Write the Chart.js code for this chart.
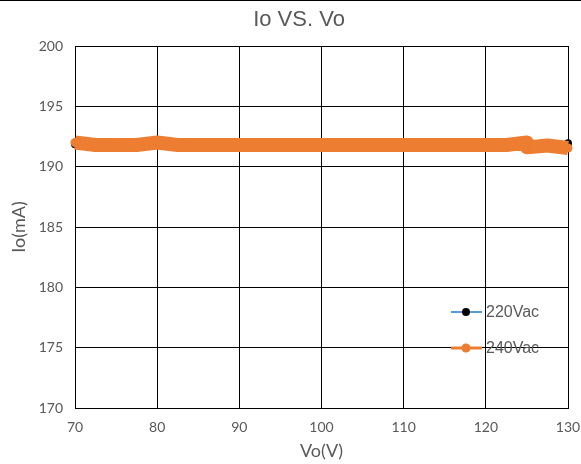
<!DOCTYPE html>
<html>
<head>
<meta charset="utf-8">
<title>Io VS. Vo</title>
<script src="https://cdn.jsdelivr.net/npm/chart.js@4.4.1/dist/chart.umd.min.js"></script>
<style>
  html, body { margin: 0; padding: 0; background: #fff; }
  #wrap { position: relative; width: 581px; height: 464px; }
  #topRule { position: absolute; left: 0; top: 0; width: 581px; height: 1px; background: #000; }
</style>
</head>
<body>
<div id="wrap">
  <canvas id="ioChart" width="581" height="464"></canvas>
  <div id="topRule"></div>
</div>
<script>
// output voltage sweep (V) and measured output current (mA)
const vo220 = [70, 75, 80, 85, 90, 95, 100, 105, 110, 115, 120, 125, 130];
const io220 = [191.85, 191.8, 191.85, 191.8, 191.8, 191.8, 191.8, 191.8, 191.8, 191.8, 191.8, 191.85, 191.95];

const vo240 = [70, 72.5, 75, 77.5, 80, 82.5, 85, 87.5, 90, 92.5, 95, 97.5, 100, 102.5,
               105, 107.5, 110, 112.5, 115, 117.5, 120, 122.5, 125, 125, 127.5, 130];
const io240 = [192.0, 191.8, 191.8, 191.8, 192.0, 191.8, 191.8, 191.8, 191.8, 191.8,
               191.8, 191.8, 191.8, 191.8, 191.8, 191.8, 191.8, 191.8, 191.8, 191.8,
               191.8, 191.8, 192.0, 191.6, 191.75, 191.55];

const seriesNames = ['220Vac', '240Vac'];
const xTicks = [70, 80, 90, 100, 110, 120, 130];
const yTicks = [170, 175, 180, 185, 190, 195, 200];

const toPoints = (xs, ys) => xs.map((x, i) => ({ x: x, y: ys[i] }));

const textGrey = '#595959';

// title drawn by hand so it can sit left of the plot centre
const chartTitle = {
  id: 'chartTitle',
  afterDraw(chart) {
    const ctx = chart.ctx;
    ctx.save();
    ctx.font = '22px "Liberation Sans", Arial, sans-serif';
    ctx.fillStyle = textGrey;
    ctx.textAlign = 'center';
    ctx.textBaseline = 'middle';
    ctx.fillText('Io VS. Vo', 299, 20);
    ctx.restore();
  }
};

// legend inside the plot, lower right
const plotLegend = {
  id: 'plotLegend',
  afterDatasetsDraw(chart) {
    const { ctx, chartArea } = chart;
    const x0 = chartArea.right - 117;
    const y0 = chartArea.top + 266;
    chart.data.datasets.forEach((ds, i) => {
      const y = y0 + i * 36;
      ctx.save();
      ctx.strokeStyle = ds.borderColor;
      ctx.lineWidth = i === 0 ? 2 : 3;
      ctx.beginPath();
      ctx.moveTo(x0, y);
      ctx.lineTo(x0 + 31, y);
      ctx.stroke();
      ctx.fillStyle = ds.pointBackgroundColor;
      ctx.beginPath();
      ctx.arc(x0 + 15, y, ds.pointRadius, 0, Math.PI * 2);
      ctx.fill();
      ctx.font = '16px "Liberation Sans", Arial, sans-serif';
      ctx.fillStyle = textGrey;
      ctx.textBaseline = 'middle';
      ctx.fillText(ds.label, x0 + 35, y + 1);
      ctx.restore();
    });
  }
};

new Chart(document.getElementById('ioChart'), {
  type: 'line',
  data: {
    datasets: [
      {
        label: seriesNames[0],
        data: toPoints(vo220, io220),
        borderColor: '#5B9BD5',
        borderWidth: 2,
        pointBackgroundColor: '#000',
        pointBorderColor: '#000',
        pointBorderWidth: 0,
        pointRadius: 4,
        order: 1,
        clip: false
      },
      {
        label: seriesNames[1],
        data: toPoints(vo240, io240),
        borderColor: '#ED7D31',
        borderWidth: 14,
        borderJoinStyle: 'round',
        pointBackgroundColor: '#ED7D31',
        pointBorderColor: '#ED7D31',
        pointBorderWidth: 0,
        pointRadius: 4.5,
        order: 0,
        clip: false
      }
    ]
  },
  options: {
    responsive: false,
    animation: false,
    layout: { padding: { top: 46, right: 13, left: 0, bottom: 0 } },
    plugins: {
      legend: { display: false },
      title: { display: false },
      tooltip: { enabled: false }
    },
    scales: {
      x: {
        type: 'linear',
        min: 70,
        max: 130,
        afterBuildTicks: (scale) => { scale.ticks = xTicks.map(v => ({ value: v })); },
        afterFit: (scale) => {
          scale.height = 56;
          // let the last label hang past the plot edge
          scale.paddingLeft = 0;
          scale.paddingRight = 0;
        },
        grid: { color: '#000', lineWidth: 1, drawTicks: false },
        border: { color: '#000', width: 1 },
        ticks: {
          padding: 11,
          color: textGrey,
          font: { family: 'Lato, "Open Sans", sans-serif', size: 14 }
        },
        title: {
          display: true,
          text: 'Vo(V)',
          color: textGrey,
          padding: { top: 0, bottom: 2 },
          font: { family: 'Lato, "Open Sans", sans-serif', size: 18 }
        }
      },
      y: {
        type: 'linear',
        min: 170,
        max: 200,
        afterBuildTicks: (scale) => { scale.ticks = yTicks.map(v => ({ value: v })); },
        afterFit: (scale) => { scale.width = 75; },
        grid: { color: '#000', lineWidth: 1, drawTicks: false },
        border: { color: '#000', width: 1 },
        ticks: {
          padding: 12,
          color: textGrey,
          font: { family: 'Lato, "Open Sans", sans-serif', size: 14 }
        },
        title: {
          display: true,
          text: 'Io(mA)',
          color: textGrey,
          padding: { top: 8, bottom: 0 },
          font: { family: 'Lato, "Open Sans", sans-serif', size: 18 }
        }
      }
    }
  },
  plugins: [chartTitle, plotLegend]
});
</script>
</body>
</html>
